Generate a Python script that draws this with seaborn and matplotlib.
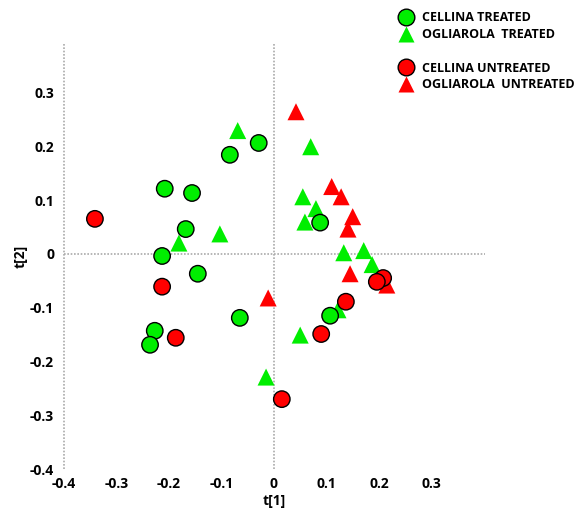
import numpy as np
import pandas as pd
import matplotlib
matplotlib.use("Agg")
import matplotlib.pyplot as plt
from matplotlib.lines import Line2D
import seaborn as sns

# scores
cellina_treated_x = [-0.084, -0.029, -0.208, -0.156, -0.168, -0.213, -0.145, -0.065, -0.227, -0.236, 0.088, 0.107]
cellina_treated_y = [0.184, 0.206, 0.121, 0.113, 0.046, -0.004, -0.037, -0.119, -0.143, -0.169, 0.058, -0.115]

ogliarola_treated_x = [-0.069, 0.070, 0.055, 0.080, 0.059, -0.103, -0.181, 0.133, 0.171, 0.187, 0.050, -0.015, 0.122]
ogliarola_treated_y = [0.229, 0.199, 0.106, 0.084, 0.059, 0.037, 0.020, 0.002, 0.006, -0.020, -0.151, -0.229, -0.104]

cellina_untreated_x = [-0.341, -0.213, -0.187, 0.015, 0.090, 0.137, 0.208, 0.196]
cellina_untreated_y = [0.065, -0.061, -0.156, -0.270, -0.149, -0.089, -0.045, -0.052]

ogliarola_untreated_x = [0.042, 0.110, 0.128, 0.150, 0.141, 0.145, -0.011, 0.215]
ogliarola_untreated_y = [0.264, 0.125, 0.106, 0.069, 0.046, -0.037, -0.082, -0.058]

groups = ["CELLINA TREATED", "OGLIAROLA  TREATED", "CELLINA UNTREATED", "OGLIAROLA  UNTREATED"]

frames = []
for name, xs, ys, trt, cult in [
    (groups[0], cellina_treated_x, cellina_treated_y, "treated", "cellina"),
    (groups[1], ogliarola_treated_x, ogliarola_treated_y, "treated", "ogliarola"),
    (groups[2], cellina_untreated_x, cellina_untreated_y, "untreated", "cellina"),
    (groups[3], ogliarola_untreated_x, ogliarola_untreated_y, "untreated", "ogliarola"),
]:
    frames.append(pd.DataFrame({"t1": xs, "t2": ys, "group": name, "trt": trt, "cult": cult}))
df = pd.concat(frames, ignore_index=True)

green = "#00ee00"
red = "#ff0000"
pal = {"treated": green, "untreated": red}

sns.set_style("white")
plt.rcParams["font.family"] = ["Open Sans", "DejaVu Sans"]
plt.rcParams["font.weight"] = "bold"
plt.rcParams["text.color"] = "black"
plt.rcParams["axes.labelcolor"] = "black"
plt.rcParams["xtick.labelcolor"] = "black"
plt.rcParams["ytick.labelcolor"] = "black"

fig = plt.figure(figsize=(5.76, 5.11), dpi=100)
ax = fig.add_axes([0.111, 0.082, 0.731, 0.832])

dot = (0, (1, 1))
ax.axhline(0, color="#aaaaaa", lw=1.2, ls=dot, zorder=0)
ax.axvline(0, color="#aaaaaa", lw=1.2, ls=dot, zorder=0)
# left axis line, light dotted like the zero lines
ax.axvline(-0.4, color="#aaaaaa", lw=1.2, ls=dot, zorder=0, clip_on=False)

# triangles first, circles on top
tri = df[df.cult == "ogliarola"]
circ = df[df.cult == "cellina"]
sns.scatterplot(data=tri, x="t1", y="t2", hue="trt", palette=pal, marker="^",
                s=150, edgecolor="none", legend=False, ax=ax, zorder=3)
sns.scatterplot(data=circ, x="t1", y="t2", hue="trt", palette=pal, marker="o",
                s=140, edgecolor="black", linewidth=1, legend=False, ax=ax, zorder=4)

ax.set_xlim(-0.4, 0.402)
ax.set_ylim(-0.4, 0.39)
ticks = [-0.4, -0.3, -0.2, -0.1, 0, 0.1, 0.2, 0.3]
tick_labels = ["-0.4", "-0.3", "-0.2", "-0.1", "0", "0.1", "0.2", "0.3"]
ax.set_xticks(ticks)
ax.set_xticklabels(tick_labels)
ax.set_yticks(ticks)
ax.set_yticklabels(tick_labels)
ax.set_xticks(np.arange(-0.35, 0.4, 0.1), minor=True)
ax.set_yticks(np.arange(-0.35, 0.4, 0.1), minor=True)
ax.tick_params(axis="both", which="major", length=3, width=1, color="#aaaaaa",
               labelsize=10, pad=4, direction="out", labelcolor="black")
ax.tick_params(axis="both", which="minor", length=2, width=1, color="#aaaaaa")
ax.tick_params(axis="x", which="both", length=2)

for side in ["top", "right", "bottom", "left"]:
    ax.spines[side].set_visible(False)

ax.set_xlabel("t[1]", fontsize=10, fontweight="bold", labelpad=2, color="black")
ax.set_ylabel("t[2]", fontsize=10, fontweight="bold", labelpad=2, color="black")

handles = [
    Line2D([], [], marker="o", ls="none", markerfacecolor=green, markeredgecolor="black", markersize=12),
    Line2D([], [], marker="^", ls="none", markerfacecolor=green, markeredgecolor="none", markersize=11),
    Line2D([], [], ls="none"),
    Line2D([], [], marker="o", ls="none", markerfacecolor=red, markeredgecolor="black", markersize=12),
    Line2D([], [], marker="^", ls="none", markerfacecolor=red, markeredgecolor="none", markersize=11),
]
labels = [groups[0], groups[1], "", groups[2], groups[3]]
fig.legend(handles, labels, loc="upper left", bbox_to_anchor=(0.672, 1.0), frameon=False,
           prop={"size": 9, "weight": "bold"}, handletextpad=0.7, labelspacing=0.3,
           handlelength=1.2, labelcolor="black")

fig.savefig("out.png", dpi=100)
